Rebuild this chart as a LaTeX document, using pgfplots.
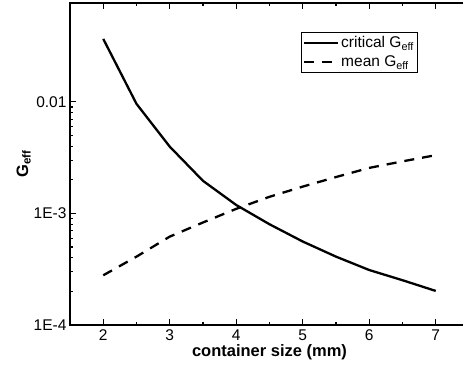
\documentclass[border=0pt]{standalone}
\usepackage{fontspec}
\setmainfont{Liberation Sans}
\usepackage{pgfplots}
\pgfplotsset{compat=1.18}
\usetikzlibrary{calc}

\begin{document}
\begin{tikzpicture}[x=1pt,y=1pt]
\begin{axis}[
  name=ax,
  scale only axis,
  width=399pt, height=322pt,
  xmin=1.5, xmax=7.5,
  ymode=log,
  ymin=1e-4, ymax=0.077,
  xtick={2,3,4,5,6,7},
  minor xtick={2.5,3.5,4.5,5.5,6.5},
  ytick={1e-4,1e-3,1e-2},
  yticklabels={1E-4,1E-3,0.01},
  tick align=inside,
  major tick length=6pt,
  minor tick length=3.5pt,
  axis line style={line width=1.4pt},
  every tick/.style={line width=1.2pt, black},
  tick label style={font=\fontsize{15.5}{17}\selectfont},
  /pgf/number format/assume math mode=true,
  xticklabel style={yshift=-1pt},
  xlabel={\textbf{container size (mm)}},
  ylabel={\textbf{G\textsubscript{eff}}},
  xlabel style={font=\fontsize{16.5}{18}\selectfont, yshift=3pt},
  ylabel style={font=\fontsize{16.5}{18}\selectfont, yshift=-4pt},
  legend style={at={(0.578,0.91)}, anchor=north west, draw=black, line width=0.8pt,
    font=\fontsize{15.5}{17}\selectfont, inner xsep=2pt, inner ysep=2pt, row sep=3pt},
  legend cell align=left,
  legend image code/.code={\draw[#1, line width=2.2pt] (0pt,0pt) -- (34pt,0pt);},
]
\addplot[black, line width=2.3pt] coordinates {
  (2,0.0367) (2.5,0.0096) (3,0.00397) (3.5,0.00196) (4,0.00119)
  (4.5,0.00080) (5,0.00056) (5.5,0.00041) (6,0.000311) (6.5,0.000252) (7,0.000202)
};
\addlegendentry{critical G\textsubscript{eff}}
\addplot[black, line width=2.3pt, dash pattern=on 10pt off 8pt] coordinates {
  (2,0.000279) (2.5,0.00041) (3,0.00062) (3.5,0.00083) (4,0.00110)
  (4.5,0.00141) (5,0.00174) (5.5,0.00212) (6,0.00256) (6.5,0.00293) (7,0.00333)
};
\addlegendentry{mean G\textsubscript{eff}}
\end{axis}
\pgfresetboundingbox
\path[use as bounding box] ($(ax.south west)+(-70pt,-50pt)$) rectangle ($(ax.north east)+(-6pt,3pt)$);
\end{tikzpicture}
\end{document}
